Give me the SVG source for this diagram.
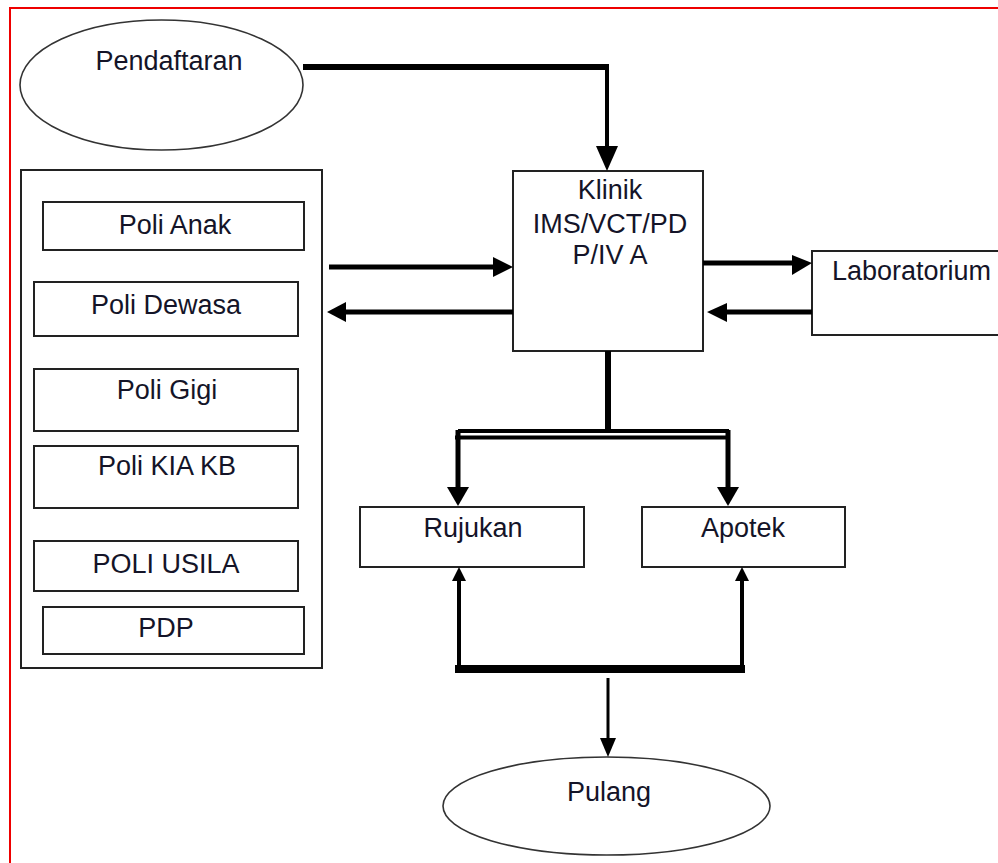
<svg xmlns="http://www.w3.org/2000/svg" width="998" height="863" viewBox="0 0 998 863">
<style>
.box{fill:#fff;stroke:#222;stroke-width:2}
.ell{fill:#fff;stroke:#333;stroke-width:1.6}
.t{font-family:"Liberation Sans",Arial,sans-serif;font-size:27px;fill:#141428;text-anchor:middle}
.c{stroke:#000;fill:none;stroke-linecap:butt}
.h{fill:#000;stroke:none}
</style>
<rect width="998" height="863" fill="#fff"/>
<g id="frame"><line x1="10" y1="8" x2="998" y2="8" stroke="#e00" stroke-width="2"/><line x1="10" y1="7" x2="10" y2="863" stroke="#e00" stroke-width="2"/></g>
<g id="pendaftaran"><ellipse class="ell" cx="161.5" cy="85" rx="141.5" ry="65"/><text class="t" x="169" y="70">Pendaftaran</text></g>
<g id="poli-group"><rect class="box" x="21" y="170" width="301" height="498"/></g>
<g id="poli-anak"><rect class="box" x="43" y="202" width="261" height="48"/><text class="t" x="175" y="234">Poli Anak</text></g>
<g id="poli-dewasa"><rect class="box" x="34" y="282" width="264" height="54"/><text class="t" x="166" y="314">Poli Dewasa</text></g>
<g id="poli-gigi"><rect class="box" x="34" y="369" width="264" height="62"/><text class="t" x="167" y="399">Poli Gigi</text></g>
<g id="poli-kia-kb"><rect class="box" x="34" y="446" width="264" height="62"/><text class="t" x="167" y="475">Poli KIA KB</text></g>
<g id="poli-usila"><rect class="box" x="34" y="541" width="264" height="50"/><text class="t" x="166" y="573">POLI USILA</text></g>
<g id="pdp"><rect class="box" x="43" y="607" width="261" height="47"/><text class="t" x="166" y="637">PDP</text></g>
<g id="klinik"><rect class="box" x="513" y="171" width="190" height="180"/><text class="t" x="610" y="199">Klinik</text><text class="t" x="610" y="233">IMS/VCT/PD</text><text class="t" x="610" y="264">P/IV A</text></g>
<g id="laboratorium"><rect class="box" x="812" y="251" width="200" height="84"/><text class="t" x="832" y="280" style="text-anchor:start">Laboratorium</text></g>
<g id="rujukan"><rect class="box" x="360" y="507" width="224" height="60"/><text class="t" x="473" y="537">Rujukan</text></g>
<g id="apotek"><rect class="box" x="642" y="507" width="203" height="60"/><text class="t" x="743" y="537">Apotek</text></g>
<g id="pulang"><ellipse class="ell" cx="606.5" cy="806" rx="163.5" ry="49"/><text class="t" x="609" y="801">Pulang</text></g>
<g id="connectors">
<path class="c" d="M303 67 H607" stroke-width="6"/>
<path class="c" d="M607 64 V148" stroke-width="4"/>
<polygon class="h" points="596,146 618,146 607,171"/>
<path class="c" d="M329 267 H495" stroke-width="5"/>
<polygon class="h" points="493,257 513,267 493,277"/>
<path class="c" d="M513 312 H345" stroke-width="5"/>
<polygon class="h" points="327,312 346,302 346,322"/>
<path class="c" d="M703 263 H794" stroke-width="5"/>
<polygon class="h" points="792,255 812,263 792,275"/>
<path class="c" d="M812 312 H725" stroke-width="5"/>
<polygon class="h" points="707,312 727,303 727,322"/>
<path class="c" d="M608 351 V432" stroke-width="6"/>
<path class="c" d="M458 431 H729" stroke-width="4"/>
<path class="c" d="M455 437.5 H729" stroke-width="4"/>
<path class="c" d="M458 430 V489" stroke-width="5"/>
<polygon class="h" points="447,487 469,487 458,506"/>
<path class="c" d="M728 430 V489" stroke-width="5"/>
<polygon class="h" points="717,487 739,487 728,506"/>
<path class="c" d="M459 669 V578" stroke-width="4"/>
<polygon class="h" points="452,581 466,581 459,567"/>
<path class="c" d="M742 669 V578" stroke-width="4"/>
<polygon class="h" points="735,581 749,581 742,567"/>
<path class="c" d="M455 669 H745" stroke-width="8"/>
<path class="c" d="M608 678 V740" stroke-width="3"/>
<polygon class="h" points="600,738 616,738 608,757"/>
</g>
</svg>
